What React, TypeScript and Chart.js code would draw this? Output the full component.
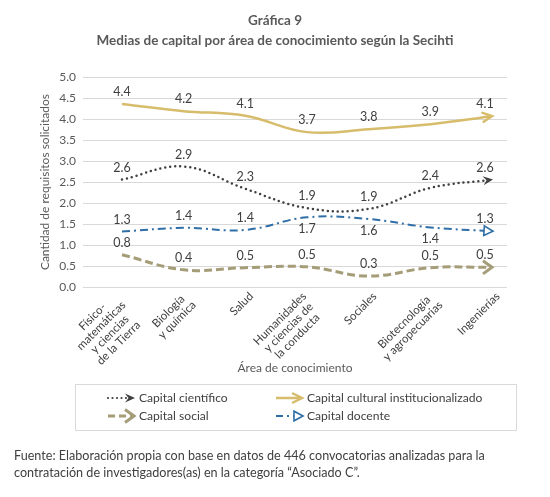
import React, { useEffect, useRef } from 'react';
import { Chart, registerables } from 'chart.js';
Chart.register(...registerables);

// ---------- data ----------
const categories: string[][] = [
  ['Físico-', 'matemáticas', 'y ciencias', 'de la Tierra'],
  ['Biología', 'y química'],
  ['Salud'],
  ['Humanidades', 'y ciencias de', 'la conducta'],
  ['Sociales'],
  ['Biotecnología', 'y agropecuarias'],
  ['Ingenierías'],
];
const seriesNames = [
  'Capital científico',
  'Capital cultural institucionalizado',
  'Capital social',
  'Capital docente',
];
const capitalCientifico = [2.56, 2.87, 2.34, 1.88, 1.86, 2.36, 2.56];
const capitalCultural = [4.36, 4.19, 4.08, 3.69, 3.76, 3.88, 4.07];
const capitalSocial = [0.77, 0.41, 0.46, 0.48, 0.26, 0.46, 0.47];
const capitalDocente = [1.32, 1.41, 1.36, 1.66, 1.62, 1.42, 1.33];
const docenteLabelSides = ['above', 'above', 'above', 'below', 'below', 'below', 'above'];
const titleLines = ['Gráfica 9', 'Medias de capital por área de conocimiento según la Secihti'];
const yAxisTitle = 'Cantidad de requisitos solicitados';
const xAxisTitle = 'Área de conocimiento';
const sourceLines = [
  'Fuente: Elaboración propia con base en datos de 446 convocatorias analizadas para la',
  'contratación de investigadores(as) en la categoría “Asociado C”.',
];

// ---------- styles ----------
const FONT = 'Lato';
const TEXT_DARK = '#404040';
const TEXT_MID = '#595959';
const GRID = '#d9d9d9';

type Style = { color: string; width: number; dash: number[]; cap: CanvasLineCap; arrow: string };
const styles: Style[] = [
  { color: '#404040', width: 2.5, dash: [0, 5], cap: 'round', arrow: 'stealth' },
  { color: '#D6BC6B', width: 2.5, dash: [], cap: 'butt', arrow: 'open' },
  { color: '#A59C78', width: 3, dash: [8, 4], cap: 'butt', arrow: 'chevron' },
  { color: '#2F6EA6', width: 2, dash: [8, 4, 2, 4], cap: 'butt', arrow: 'triangle' },
];
const seriesValues = [capitalCientifico, capitalCultural, capitalSocial, capitalDocente];
const labelSides = [
  capitalCientifico.map(() => 'above'),
  capitalCultural.map(() => 'above'),
  capitalSocial.map(() => 'above'),
  docenteLabelSides,
];

function drawArrow(ctx: CanvasRenderingContext2D, x: number, y: number, ang: number, kind: string, color: string, lw: number) {
  ctx.save();
  ctx.translate(x, y);
  ctx.rotate(ang);
  ctx.setLineDash([]);
  ctx.strokeStyle = color;
  ctx.fillStyle = color;
  ctx.lineJoin = 'miter';
  if (kind === 'open') {
    ctx.lineWidth = lw;
    ctx.lineCap = 'round';
    ctx.beginPath();
    ctx.moveTo(-9, -4.5);
    ctx.lineTo(0, 0);
    ctx.lineTo(-9, 4.5);
    ctx.stroke();
  } else if (kind === 'chevron') {
    ctx.lineWidth = lw;
    ctx.lineCap = 'butt';
    ctx.beginPath();
    ctx.moveTo(-9, -6.5);
    ctx.lineTo(0, 0);
    ctx.lineTo(-9, 6.5);
    ctx.stroke();
  } else if (kind === 'stealth') {
    ctx.beginPath();
    ctx.moveTo(1, 0);
    ctx.lineTo(-9, -4.5);
    ctx.lineTo(-5.5, 0);
    ctx.lineTo(-9, 4.5);
    ctx.closePath();
    ctx.fill();
  } else if (kind === 'triangle') {
    ctx.lineWidth = 1.6;
    ctx.beginPath();
    ctx.moveTo(1, 0);
    ctx.lineTo(-8, -4.8);
    ctx.lineTo(-8, 4.8);
    ctx.closePath();
    ctx.fillStyle = '#ffffff';
    ctx.fill();
    ctx.stroke();
  }
  ctx.restore();
}

const decorPlugin = {
  id: 'decor',
  afterDatasetsDraw(chart: any) {
    const ctx: CanvasRenderingContext2D = chart.ctx;
    const area = chart.chartArea;
    // arrow heads
    chart.data.datasets.forEach((ds: any, di: number) => {
      const meta = chart.getDatasetMeta(di);
      const pts = meta.data;
      const last = pts[pts.length - 1];
      const prev = pts[pts.length - 2];
      let cx = last.cp1x, cy = last.cp1y;
      if (cx === undefined || (Math.abs(cx - last.x) < 0.5 && Math.abs(cy - last.y) < 0.5)) {
        cx = prev.x; cy = prev.y;
      }
      const ang = Math.atan2(last.y - cy, last.x - cx);
      const st = styles[di];
      drawArrow(ctx, last.x, last.y, ang, st.arrow, st.color, st.width);
    });
    // value labels
    ctx.save();
    ctx.font = `12.5px ${FONT}`;
    ctx.fillStyle = TEXT_DARK;
    ctx.textAlign = 'center';
    ctx.textBaseline = 'middle';
    chart.data.datasets.forEach((ds: any, di: number) => {
      const meta = chart.getDatasetMeta(di);
      meta.data.forEach((el: any, i: number) => {
        const v = seriesValues[di][i];
        const side = labelSides[di][i];
        const x = Math.min(el.x, area.right - 22);
        const y = side === 'below' ? el.y + 12 : el.y - 12;
        ctx.fillText(v.toFixed(1), x, y);
      });
    });
    ctx.restore();
  },
  afterDraw(chart: any) {
    const ctx: CanvasRenderingContext2D = chart.ctx;
    ctx.save();
    // rotated category labels (centred multi-line blocks)
    const xs = chart.scales.x;
    ctx.font = `11.5px ${FONT}`;
    ctx.fillStyle = TEXT_DARK;
    ctx.textAlign = 'center';
    ctx.textBaseline = 'middle';
    const lh = 12.3;
    categories.forEach((lines, i) => {
      const px = xs.getPixelForValue(i);
      const H = lines.length * lh;
      const W = Math.max(...lines.map((l) => ctx.measureText(l).width));
      ctx.save();
      ctx.translate(px + 6, xs.top + 3 + 0.3536 * H);
      ctx.rotate(-Math.PI / 4);
      lines.forEach((l, k) => ctx.fillText(l, -W / 2, -H / 2 + lh * (k + 0.5)));
      ctx.restore();
    });
    // legend box
    ctx.strokeStyle = GRID;
    ctx.lineWidth = 1;
    ctx.strokeRect(75.5, 384.5, 441, 46);
    const cols = [107, 275];
    const rows = [398, 416];
    seriesNames.forEach((name, si) => {
      const col = cols[si % 2];
      const row = rows[Math.floor(si / 2)];
      const st = styles[si];
      ctx.save();
      ctx.strokeStyle = st.color;
      ctx.lineWidth = si === 0 ? 2.2 : st.width;
      ctx.lineCap = st.cap;
      ctx.setLineDash(si === 0 ? [0, 4.5] : si === 3 ? [7, 4, 2, 4] : si === 2 ? [7, 4] : []);
      ctx.beginPath();
      ctx.moveTo(col + 1, row);
      ctx.lineTo(col + 26, row);
      ctx.stroke();
      ctx.restore();
      drawArrow(ctx, col + 27, row, 0, st.arrow, st.color, st.width);
      ctx.font = `12.1px ${FONT}`;
      ctx.fillStyle = TEXT_DARK;
      ctx.textAlign = 'left';
      ctx.textBaseline = 'middle';
      ctx.fillText(name, col + 32, row);
    });
    // source
    ctx.font = `12.6px ${FONT}`;
    ctx.fillStyle = TEXT_DARK;
    ctx.textAlign = 'left';
    ctx.textBaseline = 'middle';
    sourceLines.forEach((t, i) => ctx.fillText(t, 14, 456 + i * 17));
    ctx.restore();
  },
};

export default function App() {
  const ref = useRef<HTMLCanvasElement>(null);
  useEffect(() => {
    const datasets = seriesValues.map((vals, di) => ({
      label: seriesNames[di],
      data: vals.map((v, i) => ({ x: i, y: v })),
      borderColor: styles[di].color,
      borderWidth: styles[di].width,
      borderDash: styles[di].dash,
      borderCapStyle: styles[di].cap,
      backgroundColor: styles[di].color,
      pointRadius: 0,
      pointHoverRadius: 0,
      tension: 0.4,
      fill: false,
    }));
    const chart = new Chart(ref.current as HTMLCanvasElement, {
      type: 'line',
      data: { datasets },
      plugins: [decorPlugin],
      options: {
        animation: false,
        responsive: true,
        maintainAspectRatio: false,
        events: [],
        layout: { padding: { left: 0, right: 0, top: 0, bottom: 122 } },
        plugins: {
          legend: { display: false },
          tooltip: { enabled: false },
          title: {
            display: true,
            text: titleLines,
            color: TEXT_MID,
            font: { family: FONT, size: 13.5, weight: 'bold', lineHeight: 1.45 },
            padding: { top: 11, bottom: 27 },
          },
        },
        scales: {
          x: {
            type: 'linear',
            min: -0.632,
            max: 6.243,
            afterBuildTicks: (s: any) => {
              s.ticks = categories.map((_, i) => ({ value: i }));
            },
            afterFit: (s: any) => {
              s.height = 88;
              s.paddingLeft = 0;
              s.paddingRight = 0;
            },
            grid: { display: false },
            border: { display: false },
            ticks: { display: false },
            title: {
              display: true,
              text: xAxisTitle,
              color: TEXT_MID,
              font: { family: FONT, size: 12, lineHeight: 1.2 },
              padding: { top: 0, bottom: 0 },
            },
          },
          y: {
            min: 0,
            max: 5,
            afterFit: (s: any) => {
              s.width = 83;
            },
            grid: { color: GRID, lineWidth: 1, drawTicks: false },
            border: { display: false },
            ticks: {
              stepSize: 0.5,
              padding: 7,
              color: TEXT_MID,
              font: { family: FONT, size: 12 },
              callback: (v: any) => Number(v).toFixed(1),
            },
            title: {
              display: true,
              text: yAxisTitle,
              color: TEXT_MID,
              font: { family: FONT, size: 12, lineHeight: 1.2 },
              padding: { top: 37.8, bottom: 0 },
            },
          },
          yRight: {
            position: 'right',
            min: 0,
            max: 5,
            afterFit: (s: any) => {
              s.width = 43;
            },
            grid: { display: false },
            border: { display: false },
            ticks: { display: false },
          },
        },
      } as any,
    });
    return () => chart.destroy();
  }, []);
  return (
    <div style={{ position: 'absolute', left: 0, top: 0, width: 550, height: 497, background: '#ffffff' }}>
      <canvas ref={ref} />
    </div>
  );
}
